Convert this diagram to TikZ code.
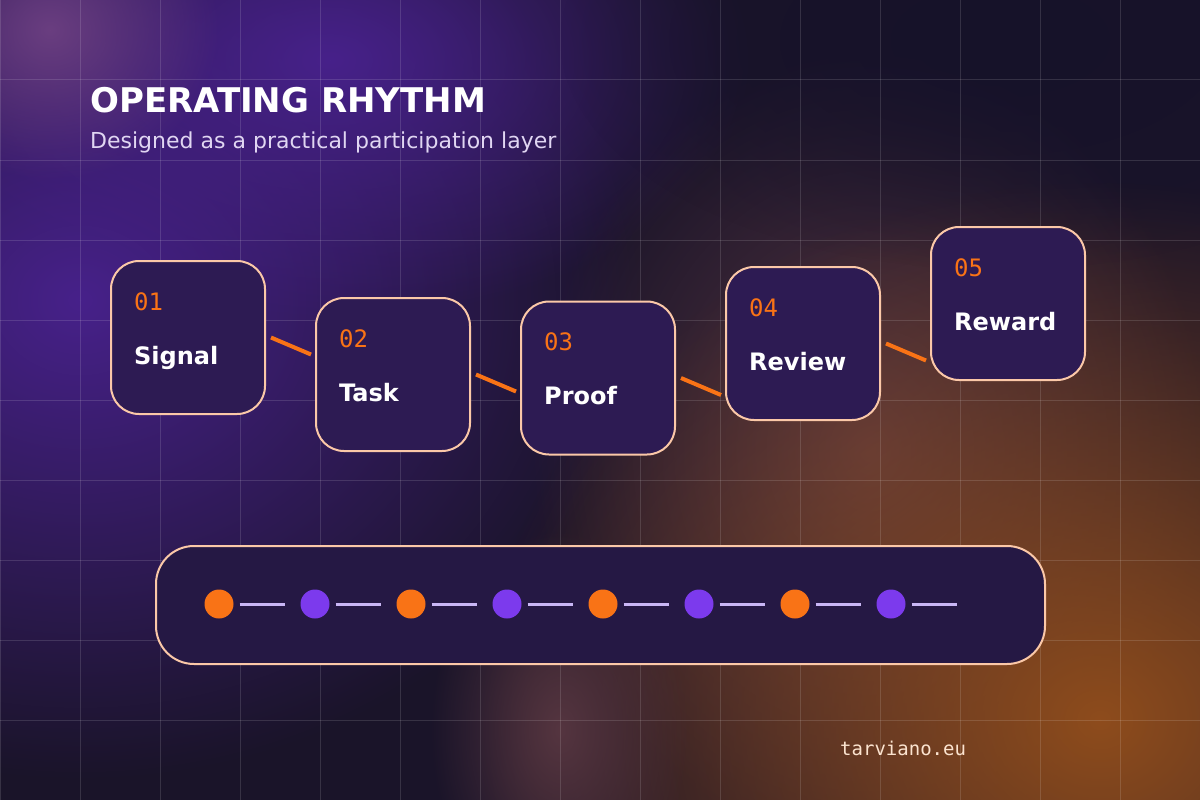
\documentclass[tikz,border=0pt]{standalone}
\usepackage{fontspec}
\setmainfont{DejaVu Sans}
\newfontfamily\monofont{DejaVu Sans Mono}
\usetikzlibrary{calc,fadings}
\definecolor{bgbase}{HTML}{1A1429}
\definecolor{bgpurple}{HTML}{47218A}
\definecolor{bgmagenta}{HTML}{6A3E80}
\definecolor{bgmauve}{HTML}{553540}
\definecolor{bgorange}{HTML}{8E4C1C}
\definecolor{bgdark}{HTML}{16122A}
\definecolor{cardfill}{HTML}{2D1B53}
\definecolor{railfill}{HTML}{251844}
\definecolor{cardline}{HTML}{FBC8A8}
\definecolor{accent}{HTML}{F97316}
\definecolor{beadpurple}{HTML}{7C3AED}
\definecolor{lavender}{HTML}{C9B6F5}
\definecolor{subtext}{HTML}{E0D6F2}
\definecolor{footcol}{HTML}{FBE3CF}
\tikzfading[name=softglow, inner color=transparent!0, outer color=transparent!100]
\tikzset{
  glow/.style={fill=#1,path fading=softglow},
  gridline/.style={draw=white,draw opacity=0.13,line width=1pt},
  stepcard/.style={draw=cardline,line width=2pt,fill=cardfill,rounded corners=28pt,minimum width=154pt,minimum height=153pt,inner sep=0pt},
  stepnum/.style={anchor=base west,inner sep=0pt,text=accent,font=\monofont\fontsize{24}{28}\selectfont},
  steplabel/.style={anchor=base west,inner sep=0pt,text=white,font=\bfseries\fontsize{24}{28}\selectfont},
  linkstroke/.style={draw=accent,line width=4pt},
  railbar/.style={draw=cardline,line width=2pt,fill=railfill,rounded corners=38pt,minimum width=889pt,minimum height=118pt},
  beadorange/.style={circle,fill=accent,minimum size=29pt,inner sep=0pt},
  beadpurple/.style={circle,fill=beadpurple,minimum size=29pt,inner sep=0pt},
  beadtail/.style={draw=lavender,line width=3pt}
}

\begin{document}
\begin{tikzpicture}[x=1pt,y=-1pt]
  \useasboundingbox (0,0) rectangle (1200,800);

  % background glows
  \fill[bgbase] (0,0) rectangle (1200,800);
  \fill[glow=bgpurple] (80,300) ellipse (560 and 480);
  \fill[glow=bgpurple] (330,60) ellipse (420 and 260);
  \fill[glow=bgmagenta] (50,30) ellipse (170 and 150);
  \fill[glow=bgmauve] (870,450) ellipse (340 and 400);
  \fill[glow=bgorange] (1100,720) ellipse (620 and 540);
  \fill[glow=bgmauve] (560,730) ellipse (130 and 200);
  \fill[glow=bgdark] (1000,40) ellipse (440 and 230);

  % grid
  \foreach \gx in {0,80,...,1200}
    \draw[gridline] (\gx,0) -- (\gx,800);
  \foreach \gy in {0,80,...,800}
    \draw[gridline] (0,\gy) -- (1200,\gy);

  % heading
  \node[anchor=base west,inner sep=0pt,text=white,font=\bfseries\fontsize{34}{40}\selectfont] (title) at (90,113) {OPERATING RHYTHM};
  \node[anchor=base west,inner sep=0pt,text=subtext,font=\fontsize{22}{26}\selectfont] (subtitle) at (90,148) {Designed as a practical participation layer};

  % step cards
  \foreach \stepno/\steptext/\cx/\cy [count=\i] in {01/Signal/188/337.5, 02/Task/393/374.5, 03/Proof/598/378, 04/Review/803/343.5, 05/Reward/1008/303.5} {
    \node[stepcard] (s\i) at (\cx,\cy) {};
    \node[stepnum] (n\i) at ($(s\i.north west)+(24,50)$) {\stepno};
    \node[steplabel] (l\i) at ($(s\i.north west)+(24,104)$) {\steptext};
  }
  \foreach \i in {1,...,4}
    \draw[linkstroke] ($(s\i.east)+(5,0)$) -- ++(40,17);

  % rhythm rail
  \node[railbar] (rail) at (600.5,605) {};
  \foreach \i/\kind in {0/beadorange,1/beadpurple,2/beadorange,3/beadpurple,4/beadorange,5/beadpurple,6/beadorange,7/beadpurple} {
    \node[\kind] (b\i) at (219+96*\i,604) {};
    \draw[beadtail] ($(b\i.east)+(6,0)$) -- ++(45,0);
  }

  \node[anchor=base west,inner sep=0pt,text=footcol,font=\monofont\fontsize{19}{23}\selectfont] (site) at (840,755) {tarviano.eu};
\end{tikzpicture}
\end{document}
